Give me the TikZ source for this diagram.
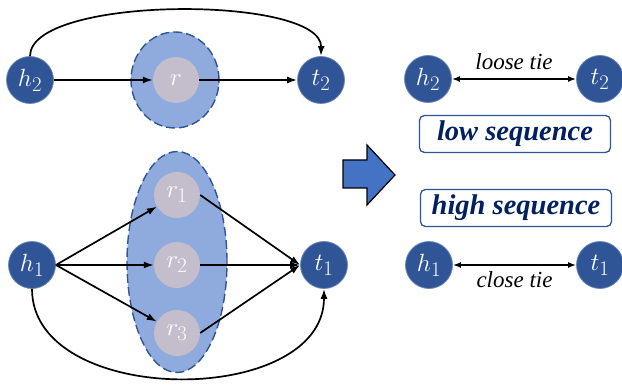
\documentclass[tikz,border=0pt]{standalone}
\usepackage{fontspec}
\setmainfont{Liberation Serif}
\usetikzlibrary{shapes.geometric,arrows.meta}

\begin{document}
\begin{tikzpicture}[x=1pt,y=-1pt,
    ent/.style={shape=circle,fill=entblue,draw=entblue!70!white,line width=0.8pt,minimum size=47pt,inner sep=0pt,text=white,font=\fontsize{28}{30}\selectfont},
    rel/.style={shape=circle,fill=relgray,minimum size=46pt,inner sep=0pt,text=white,font=\fontsize{28}{30}\selectfont},
    group/.style={shape=ellipse,draw=entblue,fill=groupblue,dash pattern=on 9pt off 4pt,line width=1.4pt,inner sep=0pt},
    link/.style={-{Latex[length=10pt,width=7pt]},line width=1.7pt},
    tie/.style={{Latex[length=8pt,width=6pt]}-{Latex[length=8pt,width=6pt]},line width=1.6pt},
    tielabel/.style={font=\fontsize{23}{25}\selectfont\itshape},
    seqbox/.style={shape=rectangle,rounded corners=5pt,draw=entblue,line width=1.3pt,fill=white,minimum width=191pt,minimum height=37pt,inner sep=0pt,text=seqnavy,font=\fontsize{28.5}{30}\selectfont\bfseries\itshape}]
    \definecolor{entblue}{RGB}{47,85,151}
    \definecolor{relgray}{RGB}{196,189,203}
    \definecolor{groupblue}{RGB}{143,170,220}
    \definecolor{arrowblue}{RGB}{68,114,196}
    \definecolor{seqnavy}{RGB}{0,32,96}
    \useasboundingbox (0,0) rectangle (622,390);

    \node[group,minimum width=88pt,minimum height=96pt] (cl2) at (175,80) {};
    \node[group,minimum width=100pt,minimum height=221pt] (cl1) at (177,262) {};

    \node[ent] (h2) at (30,80) {$h_2$};
    \node[rel] (r) at (176,80) {$r$};
    \node[ent] (t2) at (321,80) {$t_2$};
    \draw[link] (h2.east) -- (r.west);
    \draw[link] (r.east) -- (t2.west);
    \draw[link] (h2.north) .. controls (30,-5) and (322,-5) .. (t2.north);

    \node[ent] (h1) at (32,265) {$h_1$};
    \node[rel] (r1) at (177,195) {$r_1$};
    \node[rel] (r2) at (177,265) {$r_2$};
    \node[rel] (r3) at (177,333) {$r_3$};
    \node[ent] (t1) at (324,265) {$t_1$};
    \draw[link] (h1.east) -- (r1);
    \draw[link] (h1.east) -- (r2);
    \draw[link] (h1.east) -- (r3);
    \draw[link] (r1.east) -- (t1.west);
    \draw[link] (r2.east) -- (t1.west);
    \draw[link] (r3.east) -- (t1.west);
    \draw[link] (h1.south) .. controls (32,408) and (324,408) .. (t1.south);

    \draw[fill=arrowblue,line width=1.2pt] (343,160) -- (367,160) -- (367,145) -- (395,175) -- (367,205) -- (367,188) -- (343,188) -- cycle;

    \node[ent] (h2r) at (428,79) {$h_2$};
    \node[ent] (t2r) at (600,79) {$t_2$};
    \draw[tie] (h2r) -- (t2r) node[midway,above=5pt,tielabel] (loose) {loose tie};
    \node[seqbox] (low) at (515,134) {low sequence};

    \node[seqbox] (high) at (516,208) {high sequence};
    \node[ent] (h1r) at (429,265) {$h_1$};
    \node[ent] (t1r) at (600,265) {$t_1$};
    \draw[tie] (h1r) -- (t1r) node[midway,below=2pt,tielabel] (close) {close tie};
\end{tikzpicture}
\end{document}
